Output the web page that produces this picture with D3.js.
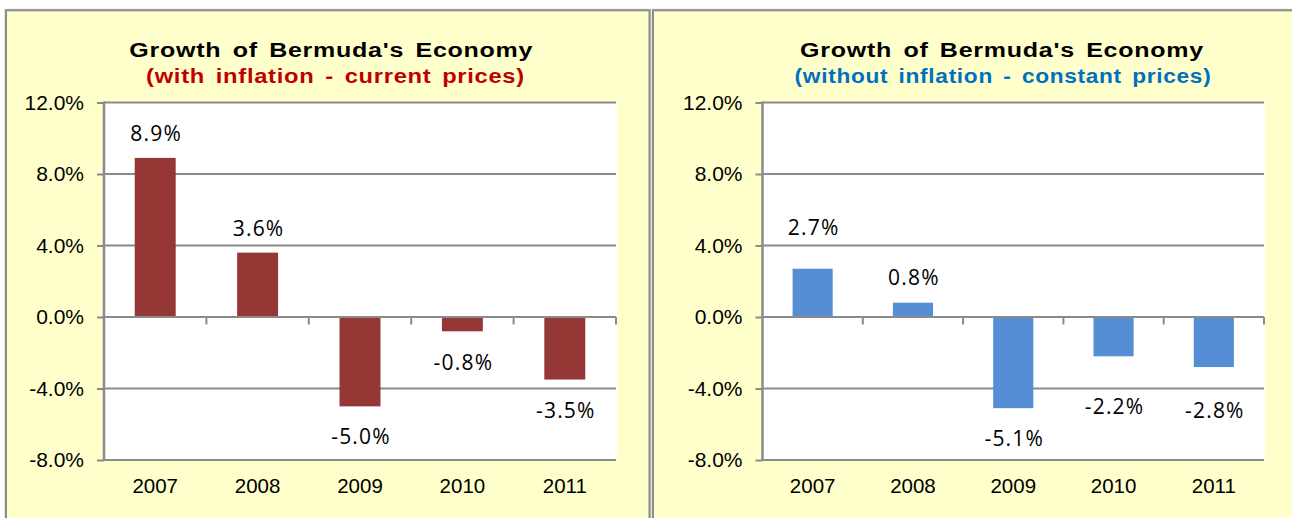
<!DOCTYPE html>
<html>
<head>
<meta charset="utf-8">
<script src="https://cdn.jsdelivr.net/npm/d3@7"></script>
<style>
  html, body { margin: 0; padding: 0; background: #ffffff; }
  svg { display: block; }
</style>
</head>
<body>
<svg id="chart" width="1292" height="518"></svg>
<script>
// ---------- data ----------
const years = ["2007", "2008", "2009", "2010", "2011"];
const currentPrices = [8.9, 3.6, -5.0, -0.8, -3.5];     // with inflation
const constantPrices = [2.7, 0.8, -5.1, -2.2, -2.8];    // without inflation
const yTicks = [-8, -4, 0, 4, 8, 12];
const titleText = "Growth of Bermuda's Economy";
const subtitleCurrent = "(with inflation - current prices)";
const subtitleConstant = "(without inflation - constant prices)";

// ---------- layout (not data) ----------
const svg = d3.select("#chart");
const plotTop = 102.5, plotBottom = 460;
const panels = [
  { x0: 6, x1: 649.5, plotLeft: 104, plotRight: 616, titleX: 331.3, subX: 335.5,
    titleW: 404, subW: 379, values: currentPrices, color: "#953735",
    subtitle: subtitleCurrent, subColor: "#C00000",
    labelOffsets: [16.5, 16.5, 38, 38.5, 38] },
  { x0: 653, x1: 1300, plotLeft: 762.5, plotRight: 1264, titleX: 1002, subX: 1003,
    titleW: 404, subW: 417, values: constantPrices, color: "#558ED5",
    subtitle: subtitleConstant, subColor: "#0070C0",
    labelOffsets: [34, 17.5, 38, 58, 51] }
];

const pct = d => (d3.format(".1f")(d) + "%").replace("\u2212", "-");
const y = d3.scaleLinear().domain([d3.min(yTicks), d3.max(yTicks)]).range([plotBottom, plotTop]);
const gridColor = "#8a8a8a";

// centred text, stretched horizontally to a target width
function stretchedText(parent, cx, cy, str, size, color, target) {
  const holder = parent.append("g").attr("transform", `translate(${cx},${cy})`);
  const t = holder.append("text").attr("x", 0).attr("y", 0).attr("text-anchor", "middle")
    .attr("font-family", "'Liberation Sans', Arial, sans-serif").attr("font-weight", "bold")
    .attr("font-size", size).attr("fill", color)
    .attr("letter-spacing", 0.6).attr("word-spacing", 3).text(str);
  const w = t.node().getComputedTextLength();
  t.attr("transform", `scale(${target / w},1)`);
  return t;
}

panels.forEach(p => {
  const g = svg.append("g");
  // panel background + border
  g.append("rect").attr("x", p.x0 - 1).attr("y", 9.3).attr("width", p.x1 - p.x0 + 2).attr("height", 520)
    .attr("fill", "none").attr("stroke", "#cfcfcf").attr("stroke-width", 1);
  g.append("rect").attr("x", p.x0).attr("y", 10.3).attr("width", p.x1 - p.x0).attr("height", 520)
    .attr("fill", "#FFFFCC").attr("stroke", "#8c8c8c").attr("stroke-width", 2);

  // plot area
  g.append("rect").attr("x", p.plotLeft).attr("y", plotTop)
    .attr("width", p.plotRight - p.plotLeft + 1).attr("height", plotBottom - plotTop)
    .attr("fill", "#ffffff");

  // titles
  stretchedText(g, p.titleX, 57.3, titleText, 20.5, "#000", p.titleW);
  stretchedText(g, p.subX, 83.3, p.subtitle, 20, p.subColor, p.subW);

  // gridlines + y axis
  const yAxis = d3.axisLeft(y).tickValues(yTicks).tickSize(7).tickPadding(13).tickFormat(pct);
  const ya = g.append("g").attr("transform", `translate(${p.plotLeft},0)`).call(yAxis);
  ya.select(".domain").remove();
  ya.selectAll(".tick line").attr("stroke", gridColor).attr("stroke-width", 2);
  ya.selectAll(".tick text").attr("font-family", "'Liberation Sans', Arial, sans-serif")
    .attr("font-size", 21).attr("fill", "#000");
  g.selectAll("line.grid").data(yTicks.filter(t => t !== 0)).join("line").attr("class", "grid")
    .attr("x1", p.plotLeft).attr("x2", p.plotRight)
    .attr("y1", d => y(d)).attr("y2", d => y(d))
    .attr("stroke", gridColor).attr("stroke-width", 2);
  g.append("line").attr("x1", p.plotLeft).attr("x2", p.plotLeft)
    .attr("y1", plotTop - 1).attr("y2", plotBottom + 1)
    .attr("stroke", gridColor).attr("stroke-width", 2.5);

  // x scales
  const xOuter = d3.scaleBand().domain(years).range([p.plotLeft, p.plotRight]).padding(0);
  const x = d3.scaleBand().domain(years).range([p.plotLeft, p.plotRight])
    .paddingInner(0.6).paddingOuter(0.3);

  // bars
  const data = years.map((yr, i) => ({ year: yr, value: p.values[i], off: p.labelOffsets[i] }));
  g.selectAll("rect.bar").data(data).join("rect").attr("class", "bar")
    .attr("x", d => x(d.year)).attr("width", x.bandwidth())
    .attr("y", d => y(Math.max(0, d.value)))
    .attr("height", d => Math.abs(y(d.value) - y(0)))
    .attr("fill", p.color);

  // zero axis line with category boundary ticks
  g.append("line").attr("x1", p.plotLeft).attr("x2", p.plotRight)
    .attr("y1", y(0)).attr("y2", y(0)).attr("stroke", gridColor).attr("stroke-width", 2);
  g.selectAll("line.xtick").data(years).join("line").attr("class", "xtick")
    .attr("x1", d => xOuter(d) + xOuter.step()).attr("x2", d => xOuter(d) + xOuter.step())
    .attr("y1", y(0)).attr("y2", y(0) + 7.5)
    .attr("stroke", gridColor).attr("stroke-width", 2);

  // year labels
  g.selectAll("text.year").data(years).join("text").attr("class", "year")
    .attr("x", d => xOuter(d) + xOuter.bandwidth() / 2).attr("y", 493.3)
    .attr("text-anchor", "middle")
    .attr("font-family", "'Liberation Sans', Arial, sans-serif")
    .attr("font-size", 20.5).attr("fill", "#000").text(d => d);

  // value labels
  g.selectAll("text.val").data(data).join("text").attr("class", "val")
    .attr("x", d => x(d.year) + x.bandwidth() / 2 + 1)
    .attr("y", d => d.value >= 0 ? y(d.value) - d.off : y(d.value) + d.off)
    .attr("text-anchor", "middle")
    .attr("font-family", "'Open Sans', 'Noto Sans', sans-serif")
    .attr("font-size", 21).attr("letter-spacing", 1.2).attr("fill", "#000")
    .text(d => pct(d.value));
});
</script>
</body>
</html>
